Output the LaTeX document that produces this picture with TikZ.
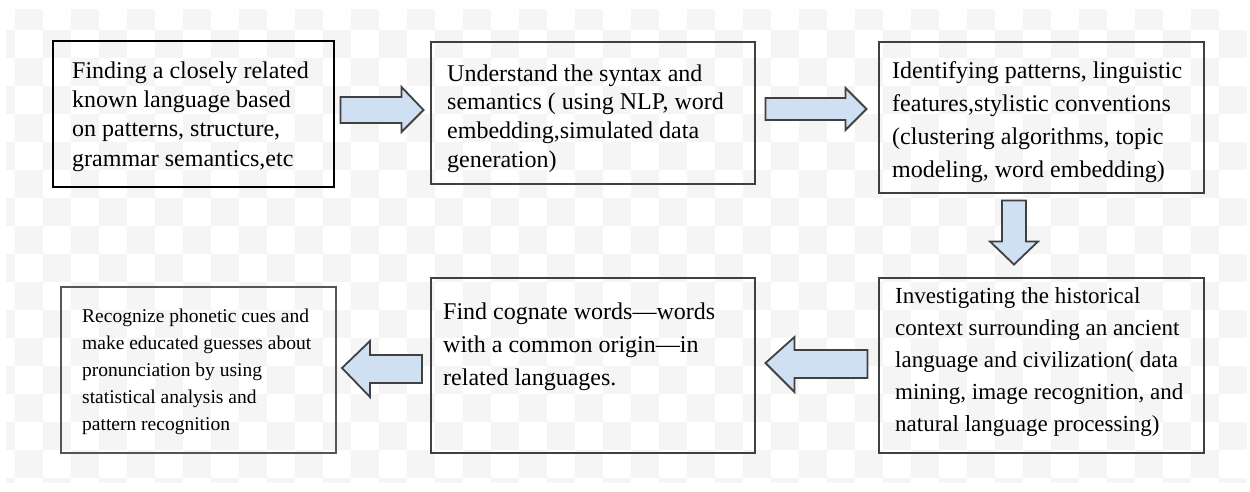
\documentclass[tikz,border=0pt]{standalone}
\usepackage{fontspec}
\setmainfont{Liberation Serif}
\usetikzlibrary{calc}
\definecolor{arrowfill}{HTML}{CFE0F2}
\definecolor{edge}{HTML}{404040}
\definecolor{edgeb}{HTML}{555555}
\definecolor{checker}{HTML}{F5F5F5}
\tikzset{
  box/.style={draw=edge, line width=1.5pt, rectangle, inner sep=0pt, anchor=north west},
  txt/.style={anchor=north west, inner sep=0pt, align=left, text=black},
  blockarrow/.style={draw=edge, fill=arrowfill, line width=1.8pt, line join=miter},
  big/.style={font=\fontsize{24}{#1}\selectfont},
}
\begin{document}
\begin{tikzpicture}[x=1pt,y=-1pt]
\useasboundingbox (0,0) rectangle (1250,491);
\fill[white] (0,0) rectangle (1250,491);
% faint checkerboard background
\begin{scope}
  \clip (6,9) rectangle (1247,482);
  \foreach \i in {0,...,45}{
    \foreach \j in {0,...,17}{
      \pgfmathtruncatemacro{\chkpar}{mod(\i+\j,2)}
      \ifnum\chkpar=1
        \fill[checker] (-13+28*\i, 2+28*\j) rectangle ++(28,28);
      \fi
    }
  }
\end{scope}

% boxes
\node[box, draw=black, minimum width=281, minimum height=146] (b1) at (52,40) {};
\node[box, minimum width=324, minimum height=142] (b2) at (430,41) {};
\node[box, minimum width=325, minimum height=151] (b3) at (878,41) {};
\node[box, minimum width=325, minimum height=175] (b4) at (878,277) {};
\node[box, minimum width=324, minimum height=175] (b5) at (430,277) {};
\node[box, draw=edgeb, line width=2pt, minimum width=275, minimum height=166] (b6) at (60,286) {};

% texts
\node[txt, big=29.3] (t1) at ($(b1.north west)+(20,17.5)$)
  {\strut Finding a closely related\\known language based\\on patterns, structure,\\grammar semantics,etc};
\node[txt, big=28.7] (t2) at ($(b2.north west)+(17,19.9)$)
  {\strut Understand the syntax and\\semantics ( using NLP, word\\embedding,simulated data\\generation)};
\node[txt, big=33] (t3) at ($(b3.north west)+(14,13.9)$)
  {\strut Identifying patterns, linguistic\\features,stylistic conventions\\(clustering algorithms, topic\\modeling, word embedding)};
\node[txt, font=\fontsize{23}{32}\selectfont] (t4) at ($(b4.north west)+(17,3.6)$)
  {\strut Investigating the historical\\context surrounding an ancient\\language and civilization( data\\mining, image recognition, and\\natural language processing)};
\node[txt, big=33] (t5) at ($(b5.north west)+(13,18.9)$)
  {\strut Find cognate words—words\\with a common origin—in\\related languages.};
\node[txt, font=\fontsize{19.5}{27}\selectfont] (t6) at ($(b6.north west)+(22,17.1)$)
  {\strut Recognize phonetic cues and\\make educated guesses about\\pronunciation by using\\statistical analysis and\\pattern recognition};

% block arrows
\begin{scope}[shift={(b1.north east)}]
  \draw[blockarrow] (6,57) -- (67,57) -- (67,47) -- (89,70) -- (67,92) -- (67,83) -- (6,83) -- cycle;
\end{scope}
\begin{scope}[shift={(b2.north east)}]
  \draw[blockarrow] (10,57) -- (90,57) -- (90,47) -- (111,68) -- (90,89) -- (90,79) -- (10,79) -- cycle;
\end{scope}
\begin{scope}[shift={(b3.south west)}]
  \draw[blockarrow] (124,7) -- (148,7) -- (148,48) -- (160,48) -- (136,71) -- (112,48) -- (124,48) -- cycle;
\end{scope}
\begin{scope}[shift={(b5.north east)}]
  \draw[blockarrow] (112,73) -- (39,73) -- (39,60) -- (10,86) -- (39,115) -- (39,101) -- (112,101) -- cycle;
\end{scope}
\begin{scope}[shift={(b6.north east)}]
  \draw[blockarrow] (85,69) -- (33,69) -- (33,55) -- (5,82) -- (33,111) -- (33,97) -- (85,97) -- cycle;
\end{scope}
\end{tikzpicture}
\end{document}
